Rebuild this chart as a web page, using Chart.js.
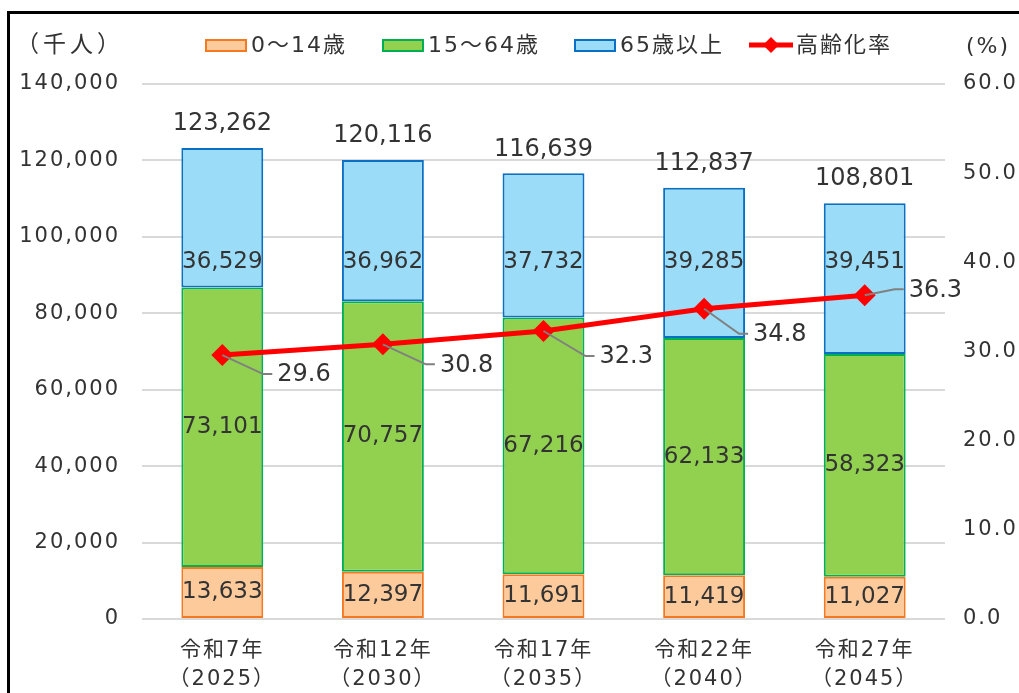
<!DOCTYPE html>
<html>
<head>
<meta charset="utf-8">
<script src="https://cdn.jsdelivr.net/npm/chart.js@4"></script>
<style>
  body { margin: 0; background: #fff; }
  #wrap { position: relative; width: 1019px; height: 693px; }
  #frame { position: absolute; left: 7px; top: 11px; right: -10px; bottom: -10px;
           border-left: 3px solid #000; border-top: 3px solid #000; pointer-events: none; }
</style>
</head>
<body>
<div id="wrap">
  <canvas id="myChart"></canvas>
  <div id="frame"></div>
</div>
<script>
const years = [['令和7年', '（2025）'], ['令和12年', '（2030）'], ['令和17年', '（2035）'], ['令和22年', '（2040）'], ['令和27年', '（2045）']]
const young = [13633, 12397, 11691, 11419, 11027]
const working = [73101, 70757, 67216, 62133, 58323]
const elderly = [36529, 36962, 37732, 39285, 39451]
const totals = [123262, 120116, 116639, 112837, 108801]
const agingRate = [29.6, 30.8, 32.3, 34.8, 36.3]

// where the rate labels sit relative to their point (elbow of the leader line)
const rateLabelOffsets = [[41, 19], [43, 20], [42, 25], [35, 25], [30, -6]]
const elderlyLabelLevel = 93500

const txt = '#333333'
const numFont = "'DejaVu Sans', 'Noto Sans CJK JP', sans-serif"

const fmt = v => v.toLocaleString('en-US')

// axis text in the original is wider than DejaVu, so space it out a little
const spacingPlugin = {
  id: 'spacing',
  beforeDraw(chart) { chart.ctx.letterSpacing = '2px' },
  afterDraw(chart) { chart.ctx.letterSpacing = '0px' }
}

const labelPlugin = {
  id: 'labels',
  afterDatasetsDraw(chart) {
    const ctx = chart.ctx
    const y = chart.scales.y
    ctx.save()
    ctx.letterSpacing = '0px'
    ctx.fillStyle = txt
    ctx.textBaseline = 'middle'
    ctx.textAlign = 'center'
    ctx.font = '23px ' + numFont
    for (let d = 0; d < 3; d++) {
      const meta = chart.getDatasetMeta(d)
      meta.data.forEach((bar, i) => {
        const v = chart.data.datasets[d].data[i]
        let cy = (bar.y + bar.base) / 2
        if (d === 2) cy = y.getPixelForValue(elderlyLabelLevel)
        ctx.fillText(fmt(v), bar.x, cy)
      })
    }
    ctx.font = '24px ' + numFont
    chart.getDatasetMeta(2).data.forEach((bar, i) => {
      ctx.fillText(fmt(totals[i]), bar.x, bar.y - 24)
    })
    const line = chart.getDatasetMeta(3)
    ctx.textAlign = 'left'
    line.data.forEach((pt, i) => {
      const [dx, dy] = rateLabelOffsets[i]
      ctx.strokeStyle = '#808080'
      ctx.lineWidth = 2
      ctx.beginPath()
      ctx.moveTo(pt.x, pt.y)
      ctx.lineTo(pt.x + dx, pt.y + dy)
      ctx.lineTo(pt.x + dx + 9, pt.y + dy)
      ctx.stroke()
      ctx.fillText(agingRate[i].toFixed(1), pt.x + dx + 14, pt.y + dy + 1)
    })
    ctx.restore()
  },
  afterDraw(chart) {
    const ctx = chart.ctx
    ctx.save()
    ctx.fillStyle = txt
    ctx.textBaseline = 'middle'
    ctx.textAlign = 'left'
    ctx.letterSpacing = '4px'
    ctx.font = '23px ' + numFont
    ctx.fillText('（千人）', 16, 46)
    ctx.letterSpacing = '2px'
    ctx.font = '22px ' + numFont
    ctx.fillText('(%)', 966, 47)
    // legend
    const items = [
      { x: 206, fill: '#fdca9c', stroke: '#f47920', text: '0～14歳' },
      { x: 383, fill: '#92d050', stroke: '#00b050', text: '15～64歳' },
      { x: 575, fill: '#9bdcf8', stroke: '#0a70c4', text: '65歳以上' }
    ]
    items.forEach(it => {
      ctx.fillStyle = it.fill
      ctx.strokeStyle = it.stroke
      ctx.lineWidth = 2
      ctx.fillRect(it.x, 40, 40, 11)
      ctx.strokeRect(it.x, 40, 40, 11)
      ctx.fillStyle = txt
      ctx.fillText(it.text, it.x + 45, 46)
    })
    ctx.strokeStyle = '#ff0000'
    ctx.lineWidth = 5
    ctx.beginPath()
    ctx.moveTo(749, 45)
    ctx.lineTo(793, 45)
    ctx.stroke()
    ctx.fillStyle = '#ff0000'
    ctx.beginPath()
    ctx.moveTo(771, 37); ctx.lineTo(779, 45); ctx.lineTo(771, 53); ctx.lineTo(763, 45)
    ctx.closePath()
    ctx.fill()
    ctx.fillStyle = txt
    ctx.fillText('高齢化率', 796, 46)
    ctx.restore()
  }
}

const ctx = document.getElementById('myChart').getContext('2d')
const myChart = new Chart(ctx, {
  data: {
    labels: years,
    datasets: [{
      type: 'bar',
      label: '0～14歳',
      data: young,
      backgroundColor: '#fdca9c',
      borderColor: '#f47920',
      borderWidth: 2,
      borderSkipped: false,
      order: 1
    }, {
      type: 'bar',
      label: '15～64歳',
      data: working,
      backgroundColor: '#92d050',
      borderColor: '#00b050',
      borderWidth: 2,
      borderSkipped: false,
      order: 1
    }, {
      type: 'bar',
      label: '65歳以上',
      data: elderly,
      backgroundColor: '#9bdcf8',
      borderColor: '#0a70c4',
      borderWidth: 2,
      borderSkipped: false,
      order: 1
    }, {
      type: 'line',
      label: '高齢化率',
      data: agingRate,
      yAxisID: 'y1',
      borderColor: '#ff0000',
      backgroundColor: '#ff0000',
      borderWidth: 5,
      pointStyle: 'rectRot',
      pointRadius: 11,
      pointBorderWidth: 0,
      fill: false,
      order: 0
    }]
  },
  options: {
    responsive: true,
    maintainAspectRatio: false,
    animation: false,
    layout: { padding: { top: 84, left: 0, right: 0, bottom: 0 } },
    datasets: { bar: { barPercentage: 0.51, categoryPercentage: 1 } },
    plugins: { legend: { display: false }, tooltip: { enabled: false } },
    scales: {
      x: {
        stacked: true,
        grid: { display: false },
        border: { display: false },
        ticks: { color: txt, padding: 9, font: { family: numFont, size: 21, lineHeight: 1.38 } },
        afterFit: s => { s.height = 74 }
      },
      y: {
        stacked: true,
        min: 0,
        max: 140000,
        grid: { color: '#d9d9d9', lineWidth: 2, drawTicks: false },
        border: { display: false },
        ticks: { stepSize: 20000, color: txt, padding: 22, font: { family: numFont, size: 21 }, callback: v => fmt(v) },
        afterFit: s => { s.width = 142 }
      },
      y1: {
        position: 'right',
        min: 0,
        max: 60,
        grid: { display: false, drawTicks: false },
        border: { display: false },
        ticks: { stepSize: 10, color: txt, padding: 18, font: { family: numFont, size: 21 }, callback: v => v.toFixed(1) },
        afterFit: s => { s.width = 74 }
      }
    }
  },
  plugins: [spacingPlugin, labelPlugin]
})
</script>
</body>
</html>
